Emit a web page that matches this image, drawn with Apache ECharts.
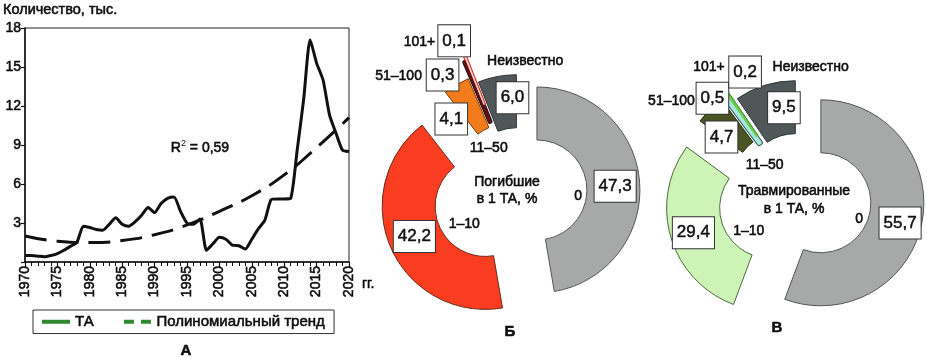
<!DOCTYPE html>
<html><head><meta charset="utf-8">
<script src="https://cdn.jsdelivr.net/npm/echarts@6/dist/echarts.min.js"></script>
<style>html,body{margin:0;padding:0;background:#fff}#c{width:927px;height:358px}</style>
</head><body><div id="c"></div>
<script>
// ---------------- data ----------------
const years = [1970,1971,1972,1973,1974,1975,1976,1977,1978,1979,
               1980,1981,1982,1983,1984,1985,1986,1987,1988,1989,
               1990,1991,1992,1993,1994,1995,1996,1997,1998,1999,
               2000,2001,2002,2003,2004,2005,2006,2007,2008,2009,
               2010,2011,2012,2013,2014,2015,2016,2017,2018,2019,2020];
const taValues = [0.5,0.5,0.45,0.4,0.5,0.65,0.9,1.2,1.5,2.75,
                  2.65,2.5,2.45,2.9,3.4,2.9,2.75,3.1,3.6,4.2,
                  3.8,4.5,4.9,5.0,3.9,3.0,2.9,3.3,0.9,1.4,
                  1.9,1.75,1.3,1.25,1.0,1.75,2.55,3.2,4.8,4.85,
                  4.85,4.9,8.6,12.5,17.1,15.3,14.0,11.3,9.9,8.6,8.5];
const trendYears = [1970,1975,1980,1985,1990,1995,2000,2005,2010,2015,2020];
const trendValues = [2.0,1.6,1.5,1.65,2.1,2.85,3.9,5.1,6.7,8.8,11.1];
const yTickValues = [0,3,6,9,12,15,18];
const xTickYears = [1970,1975,1980,1985,1990,1995,2000,2005,2010,2015,2020];

const sizeCategories = ['0','1–10','11–50','51–100','101+','Неизвестно'];
const killedShare  = [47.3,42.2,4.1,0.3,0.1,6.0];
const injuredShare = [55.7,29.4,4.7,0.5,0.2,9.5];

// ---------------- styles ----------------
const FONT = '"Liberation Sans", Arial, sans-serif';
const TXT = '#0d0d0d';
const HEAVY = { textBorderColor: '#0d0d0d', textBorderWidth: 0.55 };
const killedLook = {
  center: [519, 191.5],
  colors:  ['#a7a9a9','#fa3d20','#f27b1c','#5d1115','#ffd2ca','#4f5758'],
  borders: ['#555555','#6b2a1c','#7a3c10','#5d1115','#ffd2ca','#2f3536'],
  borderWidths: [1,1,1,2.5,1.2,1],
  underlay: [null,null,null,['#2d0507',4],['#e2352b',3.4],null],
  offsets: [18, 37, 20.7, 25.4, 44, 14],
  outer: [103,103,103,115,103,103],
  valueShift: [[-1,3],[2,-2],[-17,14],[-34,-14],[-19,-36],[11,-2]],
  catShift: [[-20,11],[18,1],[10,25],[-90,-42],[-70,-76],[21,-52]]
};
const injuredLook = {
  center: [800, 199],
  colors:  ['#a7a9a9','#cdf3b6','#4b5424','#a3e9e0','#6fca48','#4f5758'],
  borders: ['#555555','#4c6a40','#2a3010','#a3e9e0','#6fca48','#2f3536'],
  borderWidths: [1,1,1,3,1.4,1],
  underlay: [null,null,null,['#2f4c48',5],['#3a8c2a',3],null],
  offsets: [21.2, 31.7, 24.1, 18.9, 26.1, 16],
  outer: [103,103,103,103,103,103],
  valueShift: [[1,6],[0,2],[-5,11],[-30,-21],[5,-40],[12,0]],
  catShift: [[-19,6],[25,9],[21,22],[-82,-33],[-46,-66],[34,-56]]
};
const INNER = 50;

const valueBox = {
  show: true, position: 'inside', fontFamily: FONT, fontSize: 17, color: '#111',
  backgroundColor: '#fff', borderColor: '#333', borderWidth: 1, padding: [6,4,5,4], lineHeight: 20,
  textBorderColor: '#111', textBorderWidth: 0.5
};
const fmt = v => v.toFixed(1).replace('.', ',');

function sliceSeries(values, look, idx, key, under) {
  const edge = under ? look.underlay[idx] : null;
  return {
    type: 'pie', name: key + '-' + idx + (under ? '-u' : ''), center: look.center, radius: [INNER, look.outer[idx]],
    startAngle: 90, clockwise: true, selectedMode: 'single', selectedOffset: look.offsets[idx],
    avoidLabelOverlap: false, animation: false, silent: true, emphasis: { disabled: true },
    labelLine: { show: false }, z: under ? 1 : 2,
    data: values.map((v, i) => i === idx ? {
      name: sizeCategories[i], value: v, selected: true,
      itemStyle: under
        ? { color: edge[0], borderColor: edge[0], borderWidth: edge[1] }
        : { color: look.colors[i], borderColor: look.borders[i], borderWidth: look.borderWidths[i] },
      label: under ? { show: false } : Object.assign({}, valueBox, { formatter: fmt(v) })
    } : {
      name: sizeCategories[i], value: v,
      itemStyle: { color: 'rgba(0,0,0,0)', borderWidth: 0 }, label: { show: false }
    }),
    labelLayout: p => (!under && p.dataIndex === idx) ? { dx: look.valueShift[idx][0], dy: look.valueShift[idx][1] } : {}
  };
}
function categorySeries(values, look, key) {
  return {
    type: 'pie', name: key + '-cat', center: look.center, radius: [INNER, 103],
    startAngle: 90, clockwise: true, avoidLabelOverlap: false, animation: false, silent: true,
    emphasis: { disabled: true }, labelLine: { show: false }, z: 3,
    itemStyle: { color: 'rgba(0,0,0,0)', borderWidth: 0 },
    label: Object.assign({ show: true, position: 'inside', formatter: '{b}', fontFamily: FONT, fontSize: 14, color: TXT }, HEAVY),
    labelLayout: p => ({ dx: look.catShift[p.dataIndex][0], dy: look.catShift[p.dataIndex][1] }),
    data: values.map((v, i) => ({ name: sizeCategories[i], value: v }))
  };
}

const pieSeries = [];
function addDonut(values, look, key) {
  values.forEach((_, i) => { if (look.underlay[i]) pieSeries.push(sliceSeries(values, look, i, key, true)); });
  values.forEach((_, i) => pieSeries.push(sliceSeries(values, look, i, key, false)));
  pieSeries.push(categorySeries(values, look, key));
}
addDonut(killedShare, killedLook, 'killed');
addDonut(injuredShare, injuredLook, 'injured');

const txt = (text, x, y, extra) => ({
  type: 'text', silent: true, z: 50,
  style: Object.assign({ text, x, y, fill: TXT, font: '14px ' + FONT, align: 'center', verticalAlign: 'middle',
                         stroke: TXT, lineWidth: 0.55 }, extra || {})
});

const chart = echarts.init(document.getElementById('c'), null, { renderer: 'canvas', width: 927, height: 358 });
chart.setOption({
  animation: false,
  backgroundColor: '#fff',
  textStyle: { fontFamily: FONT },
  grid: { left: 25, top: 28, width: 324, height: 234, show: true, borderColor: '#222', borderWidth: 1,
          backgroundColor: 'rgba(0,0,0,0)', containLabel: false, outerBoundsMode: 'none' },
  xAxis: {
    type: 'value', min: xTickYears[0], max: xTickYears[xTickYears.length - 1], interval: 5,
    axisLine: { show: true, lineStyle: { color: '#111', width: 1.5 } },
    axisTick: { show: true, length: 5, lineStyle: { color: '#111', width: 1.2 } },
    minorTick: { show: true, splitNumber: 5, length: 4, lineStyle: { color: '#111', width: 1 } },
    splitLine: { show: false }, minorSplitLine: { show: false },
    axisLabel: Object.assign({ rotate: 90, fontSize: 14, color: TXT, margin: 4, fontFamily: FONT,
                 formatter: v => xTickYears.indexOf(v) >= 0 ? String(v) : '' }, HEAVY)
  },
  yAxis: {
    type: 'value', min: yTickValues[0], max: yTickValues[yTickValues.length - 1], interval: 3,
    axisLine: { show: true, lineStyle: { color: '#111', width: 1.5 } },
    axisTick: { show: true, length: 4, lineStyle: { color: '#111', width: 1.2 } },
    splitLine: { show: false },
    axisLabel: Object.assign({ fontSize: 14, color: TXT, margin: 4, fontFamily: FONT,
                 formatter: v => v === 0 ? '' : String(v) }, HEAVY)
  },
  legend: {
    left: 33, top: 310, orient: 'horizontal', padding: [4, 9, 4, 9], itemGap: 30,
    itemWidth: 28, itemHeight: 4, borderColor: '#333', borderWidth: 1, backgroundColor: '#fff',
    selectedMode: false,
    textStyle: Object.assign({ fontSize: 15, color: TXT, fontFamily: FONT, lineHeight: 15 }, HEAVY),
    data: [
      { name: 'ТА', icon: 'rect', itemStyle: { color: '#2f8a2f', borderWidth: 0 } },
      { name: 'Полиномиальный тренд', icon: 'path://M0,0H10V4H0Z M17,0H27V4H17Z', itemStyle: { color: '#2f8a2f', borderWidth: 0 } }
    ]
  },
  series: [
    { type: 'line', name: 'ТА', data: years.map((y, i) => [y, taValues[i]]), symbol: 'none', smooth: 0.2,
      lineStyle: { color: '#111', width: 3 }, itemStyle: { color: '#111' }, z: 3, emphasis: { disabled: true } },
    { type: 'line', name: 'Полиномиальный тренд', data: trendYears.map((y, i) => [y, trendValues[i]]), symbol: 'none', smooth: true,
      lineStyle: { color: '#111', width: 3, type: [22, 10] }, itemStyle: { color: '#111' }, z: 2, emphasis: { disabled: true } }
  ].concat(pieSeries),
  graphic: [
    txt('Количество, тыс.', 3, 10, { align: 'left', font: '14.5px ' + FONT }),
    { type: 'text', silent: true, z: 50, style: {
        x: 200, y: 148, align: 'center', verticalAlign: 'middle', fill: TXT,
        text: '{a|R}{s|2}{a| = 0,59}',
        rich: { a: { fontSize: 14, fontFamily: FONT, fill: TXT, lineHeight: 18, stroke: TXT, lineWidth: 0.55 },
                s: { fontSize: 9, fontFamily: FONT, fill: TXT, lineHeight: 10, verticalAlign: 'top' } } } },
    txt('гг.', 362, 284, { align: 'left' }),
    txt('А', 186, 351, { font: 'bold 15px ' + FONT }),
    txt('Б', 510, 332, { font: 'bold 15px ' + FONT }),
    txt('В', 777, 328, { font: 'bold 15px ' + FONT }),
    txt('Погибшие\nв 1 ТА, %', 507, 191, { lineHeight: 17 }),
    txt('Травмированные\nв 1 ТА, %', 794, 200, { lineHeight: 18 })
  ]
});
</script>
</body></html>
